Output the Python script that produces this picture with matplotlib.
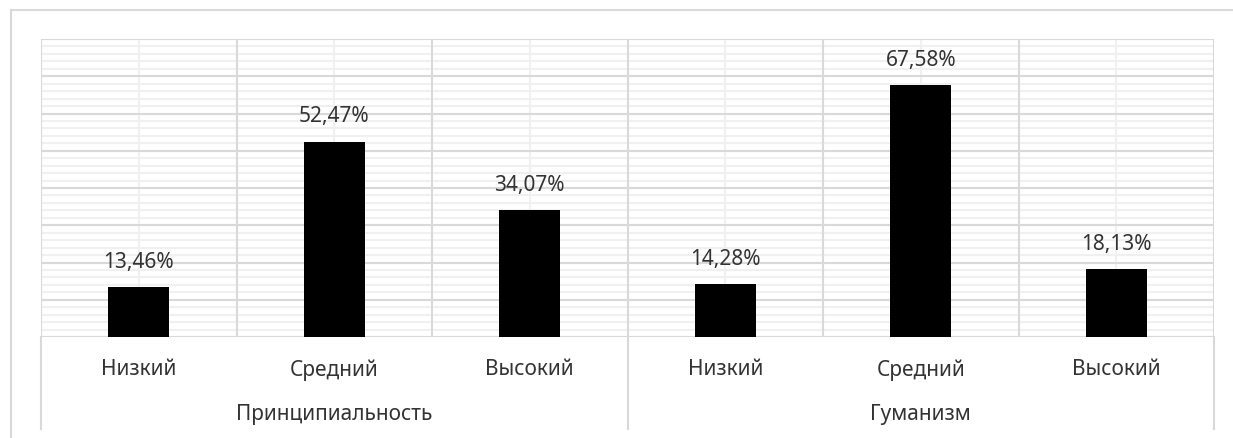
import matplotlib
matplotlib.use("Agg")
import matplotlib.pyplot as plt
from matplotlib.lines import Line2D
import numpy as np

plt.rcParams['font.family'] = ['Noto Sans', 'DejaVu Sans']

groups = ["Принципиальность", "Гуманизм"]
levels = ["Низкий", "Средний", "Высокий"]
values = [13.46, 52.47, 34.07, 14.28, 67.58, 18.13]
value_labels = ["13,46%", "52,47%", "34,07%", "14,28%", "67,58%", "18,13%"]

W, H = 1233, 439
fig = plt.figure(figsize=(W / 100, H / 100), dpi=100)
fig.patch.set_facecolor("white")

# chart area border
fig.add_artist(Line2D([11 / W, 11 / W], [0, 1 - 11 / H], transform=fig.transFigure,
                      color="#d9d9d9", lw=1.5))
fig.add_artist(Line2D([11 / W, 1], [1 - 11 / H, 1 - 11 / H], transform=fig.transFigure,
                      color="#d9d9d9", lw=1.5))

left, right, top, bottom = 41, 1214, 40, 338
ax = fig.add_axes([left / W, 1 - bottom / H, (right - left) / W, (bottom - top) / H])

n = len(values)
x = np.arange(n)
ax.set_xlim(-0.5, n - 0.5)
ax.set_ylim(0, 80)
ax.set_xticks([])
ax.set_yticks([])
for s in ax.spines.values():
    s.set_visible(False)

# gridlines, drawn in Excel-like order
for yv in np.arange(0, 81, 2):
    ax.axhline(yv, color="#f0f0f0", lw=1.5, zorder=0.1)
for xv in x:
    ax.axvline(xv, color="#f0f0f0", lw=1.5, zorder=0.2)
for yv in np.arange(0, 81, 10):
    ax.axhline(yv, color="#d9d9d9", lw=1.5, zorder=0.3)
for xv in np.arange(-0.5, n, 1):
    ax.axvline(xv, color="#d9d9d9", lw=1.5, zorder=0.4)

ax.bar(x, values, width=0.31, color="black", zorder=3)

for xi, v, lab in zip(x, values, value_labels):
    ax.annotate(lab, (xi, v), xytext=(0, 18.5), textcoords="offset points",
                ha="center", va="center", fontsize=15, color="#333333")

trans = ax.get_xaxis_transform()
ext = -(430 - bottom) / (bottom - top)
for xb in [-0.5, 2.5, 5.5]:
    ax.add_line(Line2D([xb, xb], [0, ext], transform=trans, color="#d9d9d9",
                       lw=1.5, clip_on=False))

y_lvl = -(370 - bottom) / (bottom - top)
y_grp = -(415 - bottom) / (bottom - top)
for i, xi in enumerate(x):
    ax.text(xi, y_lvl, levels[i % 3], transform=trans, ha="center", va="center",
            fontsize=15, color="#333333")
for g, name in enumerate(groups):
    ax.text(3 * g + 1, y_grp, name, transform=trans, ha="center", va="center",
            fontsize=15, color="#333333")

fig.savefig("out.png", dpi=100)
